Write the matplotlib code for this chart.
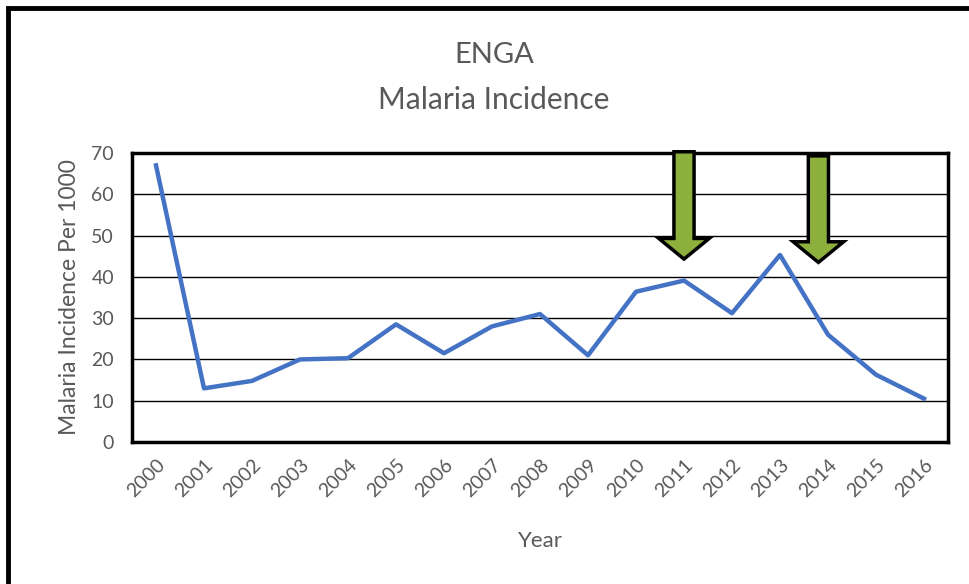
import matplotlib
matplotlib.use("Agg")
import matplotlib.pyplot as plt
from matplotlib.patches import Rectangle, FancyArrow

years = [str(y) for y in range(2000, 2017)]
incidence = [67, 13, 14.8, 20, 20.3, 28.5, 21.5, 28, 31, 21, 36.4, 39.1, 31.2, 45.3, 26, 16.3, 10.5]
arrow_years = ["2011", "2014"]
arrow_offsets = [0.0, -0.2]

plt.rcParams['font.family'] = ['Lato', 'DejaVu Sans']
W, H = 970, 584
fig = plt.figure(figsize=(W/100, H/100), dpi=100)
ax = fig.add_axes([132/W, 1-442/H, (948-132)/W, (442-153)/H])

x = list(range(len(years)))
ax.plot(x, incidence, color='#4472C4', lw=3.2, solid_joinstyle='round', zorder=3)
ax.set_xlim(-0.5, len(years)-0.5)
ax.set_ylim(0, 70)
ax.set_yticks(range(0, 71, 10))
ax.set_xticks(x)
ax.set_xticklabels(years, rotation=45, ha='right', rotation_mode='anchor', fontsize=14, color='#595959')
ax.tick_params(axis='y', labelsize=14, labelcolor='#595959', length=0, pad=13)
ax.tick_params(axis='x', length=0, pad=10)
ax.grid(axis='y', color='black', lw=1)
ax.set_axisbelow(True)
for s in ax.spines.values():
    s.set_linewidth(2.5)
    s.set_color('black')
ax.set_ylabel('Malaria Incidence Per 1000', fontsize=16.5, color='#595959', labelpad=8)
ax.set_xlabel('Year', fontsize=16, color='#595959', labelpad=22)

for yr, off in zip(arrow_years, arrow_offsets):
    xi = years.index(yr) + off
    top = 70.3 if off == 0 else 69.3
    tip = 44.3 if off == 0 else 43.5
    ar = FancyArrow(xi, top, 0, tip - top, width=0.42, head_width=1.05, head_length=5.0,
                    length_includes_head=True, facecolor='#8DB03C', edgecolor='black',
                    lw=2.5, zorder=5, clip_on=False)
    ax.add_patch(ar)

fig.text(494/W, 1-55/H, 'ENGA', ha='center', va='center', fontsize=21, color='#595959')
fig.text(494/W, 1-100/H, 'Malaria Incidence', ha='center', va='center', fontsize=21.5, color='#595959')

fig.patches.append(Rectangle((8/W, -0.1), 2.0, 1.1 - 8/H, transform=fig.transFigure,
                             fill=False, edgecolor='black', lw=3.5, zorder=10))
fig.savefig('out.png', dpi=100)
